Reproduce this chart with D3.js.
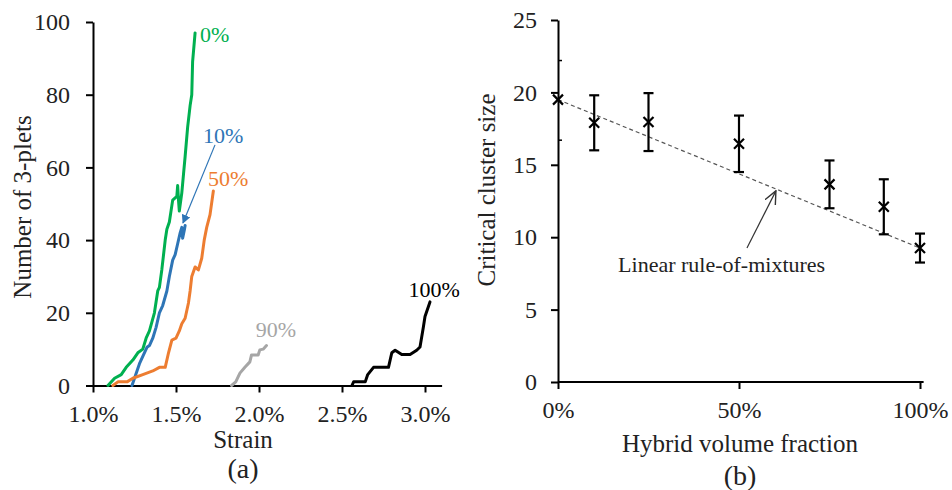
<!DOCTYPE html>
<meta charset="utf-8">
<style>
body {
  background: #fff;
  margin: 0;
  padding: 0;
}
text {
  font-family: "Liberation Serif", "Times New Roman", serif;
  fill: #222;
}
.axis path,
.axis line {
  stroke: #000;
  stroke-width: 2px;
}
.axis text {
  font-size: 24px;
  font-family: "Liberation Serif", "Times New Roman", serif;
  fill: #222;
}
.title {
  font-size: 25px;
  text-anchor: middle;
}
.panel {
  font-size: 28px;
  text-anchor: middle;
}
.curve {
  fill: none;
  stroke-width: 3px;
  stroke-linejoin: round;
  stroke-linecap: round;
}
.tag {
  font-size: 22px;
}
.rom {
  fill: none;
  stroke: #555;
  stroke-width: 1.2px;
  stroke-dasharray: 4 3;
}
.err {
  stroke: #000;
  stroke-width: 2.2px;
}
.cross {
  stroke: #000;
  stroke-width: 2.2px;
}
</style>
<body>
<script src="https://cdn.jsdelivr.net/npm/d3@7"></script>
<script>
// (a) number of 3-plets vs strain, [strain %, count]
var series0 = [[1.09,0],[1.13,2],[1.17,3],[1.20,5],[1.24,7],[1.27,9],[1.30,10],[1.32,13],[1.34,15],[1.37,20],[1.39,26],[1.40,27],[1.415,32],[1.435,40],[1.445,43],[1.46,45],[1.48,51],[1.505,52],[1.51,55],[1.515,51],[1.52,48],[1.535,53],[1.545,58],[1.555,63],[1.57,71],[1.585,77],[1.595,80],[1.60,89],[1.615,97]];
var series10 = [[1.235,0],[1.25,2],[1.265,4],[1.28,6],[1.30,8],[1.325,10.5],[1.34,11],[1.36,13],[1.38,16],[1.40,20],[1.42,22],[1.445,26],[1.46,30],[1.48,34.5],[1.495,36],[1.51,39],[1.525,42],[1.535,43.5],[1.54,40.5],[1.55,42.7],[1.555,44]];
var series50 = [[1.12,0],[1.15,1],[1.205,1],[1.24,2],[1.30,3],[1.36,4],[1.40,5],[1.435,5],[1.455,9],[1.475,12.5],[1.50,13],[1.52,15],[1.535,17],[1.555,18.5],[1.575,22.7],[1.585,26],[1.595,30],[1.615,32.6],[1.635,31.8],[1.655,35],[1.67,40],[1.685,43.5],[1.705,47],[1.725,53.5]];
var series90 = [[1.835,0],[1.86,1],[1.885,3.4],[1.915,5],[1.945,6.5],[1.955,8.4],[1.995,8.4],[2.005,9.8],[2.025,10],[2.045,11]];
var series100 = [[2.56,0],[2.57,1],[2.64,1],[2.655,3],[2.69,5],[2.78,5],[2.80,9],[2.82,9.7],[2.86,8.5],[2.91,8.5],[2.95,9.7],[2.97,10.6],[2.99,16],[3.00,19],[3.03,23]];
var seriesNames = ["0%", "10%", "50%", "90%", "100%"];
var seriesColors = ["#00b050", "#2e75b6", "#ed7d31", "#a6a6a6", "#000000"];
// label anchor in data units [strain, count]
var seriesTags = [[1.645,94.5],[1.663,66.7],[1.693,55],[1.98,13.3],[2.90,24.3]];
var strainTicks = [1.0, 1.5, 2.0, 2.5, 3.0];
var countTicks = [0, 20, 40, 60, 80, 100];

// (b) critical cluster size vs hybrid volume fraction
var fractions = [0, 10, 25, 50, 75, 90, 100];
var clusterSize = [19.5, 17.9, 17.95, 16.45, 13.65, 12.1, 9.25];
var clusterErr = [0, 1.9, 2.0, 1.95, 1.65, 1.9, 1.0];
var fractionTicks = [0, 50, 100];
var sizeTicks = [0, 5, 10, 15, 20, 25];

var width = 952,
    height = 490;

var svg = d3.select("body").append("svg")
    .attr("width", width)
    .attr("height", height);

// ---------- panel (a)
var xa = d3.scaleLinear().domain([1.0, 3.1]).range([93, 441.6]);
var ya = d3.scaleLinear().domain([0, 100]).range([385.5, 22]);

svg.append("g")
    .attr("class", "axis")
    .attr("transform", "translate(0," + ya(0) + ")")
    .call(d3.axisBottom(xa).tickValues(strainTicks).tickSize(7).tickSizeOuter(0).tickPadding(12)
      .tickFormat(function(d) { return d.toFixed(1) + "%"; }));

svg.append("g")
    .attr("class", "axis")
    .attr("transform", "translate(" + xa(1.0) + ",0)")
    .call(d3.axisLeft(ya).tickValues(countTicks).tickSize(7).tickSizeOuter(0).tickPadding(16));

var linea = d3.line()
    .x(function(d) { return xa(d[0]); })
    .y(function(d) { return ya(d[1]); });

var allSeries = [series0, series10, series50, series90, series100];
allSeries.forEach(function(s, i) {
  svg.append("path")
      .datum(s)
      .attr("class", "curve")
      .attr("stroke", seriesColors[i])
      .attr("d", linea);
  svg.append("text")
      .attr("class", "tag")
      .attr("x", xa(seriesTags[i][0]))
      .attr("y", ya(seriesTags[i][1]))
      .style("fill", seriesColors[i])
      .text(seriesNames[i]);
});

var defs = svg.append("defs");
defs.append("marker")
    .attr("id", "tri")
    .attr("viewBox", "0 0 10 10")
    .attr("refX", 9).attr("refY", 5)
    .attr("markerWidth", 9).attr("markerHeight", 9)
    .attr("markerUnits", "userSpaceOnUse")
    .attr("orient", "auto")
  .append("path")
    .attr("d", "M0,0L10,5L0,10Z")
    .attr("fill", "#2e75b6");
defs.append("marker")
    .attr("id", "open")
    .attr("viewBox", "0 0 12 12")
    .attr("refX", 11).attr("refY", 6)
    .attr("markerWidth", 14).attr("markerHeight", 14)
    .attr("markerUnits", "userSpaceOnUse")
    .attr("orient", "auto")
  .append("path")
    .attr("d", "M0,1L11,6L0,11")
    .attr("fill", "none")
    .attr("stroke", "#333")
    .attr("stroke-width", 1.2);

svg.append("line")
    .attr("x1", xa(1.735)).attr("y1", ya(66.2))
    .attr("x2", xa(1.542)).attr("y2", ya(44.7))
    .attr("stroke", "#2e75b6")
    .attr("stroke-width", 1.2)
    .attr("marker-end", "url(#tri)");

svg.append("text")
    .attr("class", "title")
    .attr("transform", "translate(31,207) rotate(-90)")
    .text("Number of 3-plets");
svg.append("text")
    .attr("class", "title")
    .attr("x", 243).attr("y", 448)
    .text("Strain");
svg.append("text")
    .attr("class", "panel")
    .attr("x", 243).attr("y", 478)
    .text("(a)");

// ---------- panel (b)
var xb = d3.scaleLinear().domain([0, 100]).range([558, 920]);
var yb = d3.scaleLinear().domain([0, 25]).range([382, 20]);

svg.append("g")
    .attr("class", "axis")
    .attr("transform", "translate(0," + yb(0) + ")")
    .call(d3.axisBottom(xb).tickValues(fractionTicks).tickSize(7).tickSizeOuter(0).tickPadding(12)
      .tickFormat(function(d) { return d + "%"; }))
  .select(".domain")
    .attr("d", "M" + xb(0) + ",0H" + xb(101));

svg.append("g")
    .attr("class", "axis")
    .attr("transform", "translate(" + xb(0) + ",0)")
    .call(d3.axisLeft(yb).tickValues(sizeTicks).tickSize(7).tickSizeOuter(0).tickPadding(14));

// stray minor ticks on the y axis
svg.selectAll(".minor")
    .data([22.2, 16.7])
  .enter().append("line")
    .attr("x1", xb(0)).attr("x2", xb(0) + 4)
    .attr("y1", function(d) { return yb(d); })
    .attr("y2", function(d) { return yb(d); })
    .attr("stroke", "#000")
    .attr("stroke-width", 1.5);

svg.append("path")
    .datum([[fractions[0], clusterSize[0]], [fractions[fractions.length - 1], clusterSize[clusterSize.length - 1]]])
    .attr("class", "rom")
    .attr("d", d3.line()
      .x(function(d) { return xb(d[0]); })
      .y(function(d) { return yb(d[1]); }));

var pts = fractions.map(function(f, i) { return {f: f, v: clusterSize[i], e: clusterErr[i]}; });
var bars = svg.selectAll(".bar").data(pts.filter(function(d) { return d.e > 0; }))
  .enter().append("g").attr("class", "bar");
bars.append("line").attr("class", "err")
    .attr("x1", function(d) { return xb(d.f); }).attr("x2", function(d) { return xb(d.f); })
    .attr("y1", function(d) { return yb(d.v + d.e); }).attr("y2", function(d) { return yb(d.v - d.e); });
[1, -1].forEach(function(sgn) {
  bars.append("line").attr("class", "err")
      .attr("x1", function(d) { return xb(d.f) - 5; }).attr("x2", function(d) { return xb(d.f) + 5; })
      .attr("y1", function(d) { return yb(d.v + sgn * d.e); }).attr("y2", function(d) { return yb(d.v + sgn * d.e); });
});

svg.selectAll(".pt").data(pts).enter().append("path")
    .attr("class", "cross")
    .attr("d", function(d) {
      var x = xb(d.f), y = yb(d.v), r = 5;
      return "M" + (x - r) + "," + (y - r) + "L" + (x + r) + "," + (y + r) +
             "M" + (x - r) + "," + (y + r) + "L" + (x + r) + "," + (y - r);
    });

svg.append("line")
    .attr("x1", xb(52.2)).attr("y1", yb(9.25))
    .attr("x2", xb(60.2)).attr("y2", yb(13.2))
    .attr("stroke", "#333")
    .attr("stroke-width", 1.2)
    .attr("marker-end", "url(#open)");

svg.append("text")
    .attr("x", xb(16.6)).attr("y", yb(7.6))
    .style("font-size", "22px")
    .text("Linear rule-of-mixtures");

svg.append("text")
    .attr("class", "title")
    .attr("transform", "translate(495,190) rotate(-90)")
    .text("Critical cluster size");
svg.append("text")
    .attr("class", "title")
    .attr("x", 740).attr("y", 452)
    .text("Hybrid volume fraction");
svg.append("text")
    .attr("class", "panel")
    .attr("x", 740).attr("y", 485)
    .text("(b)");
</script>
